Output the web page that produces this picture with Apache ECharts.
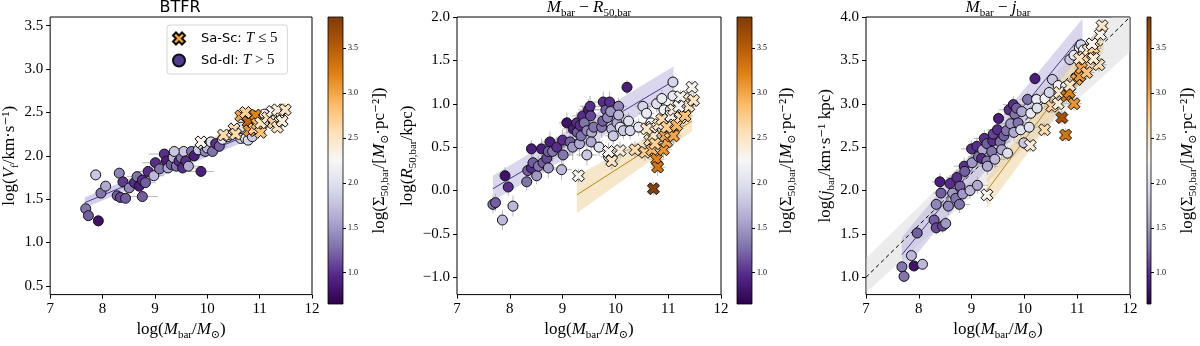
<!DOCTYPE html>
<html>
<head>
<meta charset="utf-8">
<script src="https://cdn.jsdelivr.net/npm/echarts@6.0.0/dist/echarts.min.js"></script>
<style>
  html, body { margin: 0; padding: 0; background: #fff; }
  #chart { width: 1200px; height: 346px; }
</style>
</head>
<body>
<div id="chart"></div>
<script>
// each point: [log Mbar, y, log Sigma50, xerr, yerr]
const btfrSd = [
  [7.68,1.39,1.3,0.05,0.04],[7.73,1.31,1.2,0.05,0.05],[7.92,1.25,0.8,0.05,0.07],[7.87,1.78,1.8,0.05,0.06],
  [7.97,1.57,1.3,0.05,0.04],[8.06,1.65,1.6,0.05,0.04],[8.32,1.80,1.4,0.05,0.03],[8.39,1.70,1.05,0.1,0.03],
  [8.28,1.54,1.2,0.05,0.03],[8.34,1.52,1.1,0.05,0.03],[8.44,1.51,1.2,0.05,0.03],[8.51,1.63,1.4,0.2,0.03],
  [8.61,1.69,1.0,0.2,0.03],[8.70,1.65,0.9,0.15,0.03],[8.66,1.76,1.3,0.2,0.03],[8.76,1.72,1.0,0.2,0.03],
  [8.82,1.69,1.2,0.2,0.03],[8.76,1.53,1.2,0.3,0.03],[8.87,1.82,1.0,0.2,0.03],[8.98,1.77,1.7,0.2,0.03],
  [9.01,1.92,1.0,0.25,0.03],[9.09,1.85,1.3,0.2,0.03],[9.18,2.02,1.0,0.3,0.03],[9.22,1.94,0.9,0.2,0.03],
  [9.25,1.86,1.6,0.2,0.03],[9.31,1.90,1.2,0.2,0.03],[9.35,1.98,1.7,0.2,0.03],[9.41,1.88,1.3,0.2,0.03],
  [9.46,1.94,1.0,0.2,0.03],[9.50,1.98,1.3,0.2,0.03],[9.55,2.05,1.8,0.15,0.03],[9.53,1.86,1.0,0.25,0.03],
  [9.59,1.94,1.0,0.2,0.03],[9.64,1.88,1.6,0.2,0.03],[9.37,2.05,1.8,0.2,0.03],[9.70,2.05,1.3,0.2,0.03],
  [9.75,2.00,0.9,0.2,0.03],[9.83,2.07,1.8,0.15,0.03],[9.88,1.82,0.9,0.25,0.03],[9.91,2.12,1.9,0.15,0.03],
  [9.96,2.05,1.4,0.15,0.03],[10.0,2.09,1.7,0.15,0.03],[10.07,2.16,2.0,0.15,0.03],[10.10,2.05,1.3,0.15,0.03],
  [10.16,2.14,1.0,0.15,0.03],[10.23,2.11,1.2,0.15,0.03],[10.29,2.19,2.1,0.15,0.03],[10.39,2.22,2.0,0.15,0.03],
  [10.45,2.24,2.2,0.15,0.03],[10.54,2.27,1.9,0.15,0.03],[10.64,2.20,1.9,0.15,0.03],[10.73,2.20,2.1,0.15,0.03],
  [10.78,2.18,1.9,0.15,0.03],[10.86,2.22,1.8,0.15,0.03],[10.89,2.46,1.9,0.15,0.03],[11.08,2.37,1.8,0.15,0.03],
  [11.09,2.48,2.2,0.15,0.03],[10.64,2.33,2.0,0.15,0.03]
];
const btfrSa = [
  [9.88,2.16,2.3,0.1,0.03],[10.31,2.24,2.6,0.1,0.03],[10.51,2.31,2.6,0.1,0.03],[10.54,2.25,2.6,0.1,0.03],
  [10.64,2.46,3.0,0.1,0.03],[10.73,2.50,2.7,0.1,0.03],[10.78,2.39,3.4,0.1,0.03],[10.80,2.29,3.1,0.1,0.03],
  [10.89,2.31,2.7,0.1,0.03],[10.92,2.47,3.2,0.1,0.03],[10.95,2.37,2.9,0.1,0.03],[11.02,2.27,2.8,0.1,0.03],
  [11.02,2.38,2.5,0.1,0.03],[11.15,2.44,2.5,0.1,0.03],[11.24,2.51,2.3,0.1,0.03],[11.26,2.38,2.7,0.1,0.03],
  [11.34,2.33,2.5,0.1,0.03],[11.39,2.46,2.4,0.1,0.03],[11.34,2.53,2.4,0.1,0.03],[11.49,2.53,2.5,0.1,0.03],
  [11.43,2.40,2.4,0.1,0.03]
];
const r50Sd = [
  [7.68,-0.16,1.3,0.05,0.1],[7.73,-0.14,1.2,0.05,0.1],[7.91,0.17,0.8,0.05,0.1],[7.97,0.04,1.0,0.05,0.1],
  [7.86,-0.34,1.7,0.05,0.12],[8.06,-0.18,1.7,0.05,0.12],[8.32,0.10,1.3,0.1,0.1],[8.34,0.23,1.2,0.1,0.1],
  [8.41,0.48,0.9,0.1,0.1],[8.41,0.26,1.0,0.1,0.1],[8.44,0.32,1.2,0.1,0.1],[8.51,0.17,1.5,0.1,0.1],
  [8.54,0.28,1.3,0.15,0.12],[8.60,0.48,0.9,0.15,0.12],[8.63,0.32,1.2,0.15,0.12],[8.70,0.37,1.1,0.15,0.12],
  [8.73,0.26,1.5,0.15,0.12],[8.76,0.56,0.9,0.15,0.12],[8.73,0.45,1.2,0.15,0.12],[8.81,0.45,1.3,0.15,0.12],
  [8.89,0.50,1.0,0.15,0.12],[9.0,0.58,1.0,0.2,0.12],[9.01,0.41,1.3,0.2,0.15],[8.98,0.24,1.7,0.2,0.12],
  [9.08,0.78,0.8,0.15,0.12],[9.14,0.56,1.2,0.2,0.15],[9.19,0.50,1.5,0.2,0.15],[9.20,0.71,0.9,0.2,0.12],
  [9.27,0.78,1.0,0.2,0.12],[9.28,0.67,1.2,0.2,0.15],[9.32,0.54,1.6,0.2,0.15],[9.33,0.75,1.0,0.2,0.12],
  [9.38,0.86,1.0,0.2,0.12],[9.41,0.78,1.3,0.2,0.12],[9.35,0.63,1.3,0.2,0.15],[9.46,0.69,1.4,0.2,0.12],
  [9.49,0.93,0.9,0.2,0.12],[9.52,0.97,1.0,0.2,0.12],[9.53,0.86,1.1,0.2,0.12],[9.55,0.67,1.6,0.2,0.12],
  [9.54,0.56,1.6,0.2,0.12],[9.59,0.73,1.3,0.2,0.12],[9.46,0.41,1.8,0.2,0.12],[9.69,0.50,2.0,0.15,0.1],
  [9.74,0.73,1.3,0.2,0.12],[9.77,1.02,1.0,0.2,0.12],[9.76,0.80,1.2,0.2,0.12],[9.82,0.93,1.2,0.2,0.12],
  [9.85,0.84,1.4,0.2,0.12],[9.89,1.02,1.0,0.2,0.12],[9.93,0.71,1.7,0.15,0.1],[9.96,0.63,1.8,0.15,0.1],
  [9.91,0.91,1.5,0.15,0.1],[10.03,0.78,1.6,0.15,0.1],[10.06,0.97,1.4,0.15,0.1],[10.06,0.87,1.7,0.15,0.1],
  [10.09,0.73,2.0,0.15,0.1],[10.15,0.69,1.8,0.15,0.1],[10.25,0.80,2.0,0.15,0.1],[10.22,1.19,0.9,0.1,0.08],
  [10.28,0.69,1.9,0.15,0.1],[10.44,0.73,2.1,0.15,0.1],[10.52,0.97,1.9,0.15,0.1],[10.59,0.89,2.1,0.15,0.1],
  [10.67,0.78,2.2,0.15,0.1],[10.78,1.00,2.0,0.15,0.1],[10.88,1.06,2.1,0.15,0.1],[10.92,0.93,2.2,0.15,0.1],
  [11.04,0.93,2.1,0.15,0.1],[11.09,1.25,1.9,0.1,0.08],[11.09,1.09,2.1,0.1,0.08],[9.87,0.39,2.0,0.15,0.1]
];
const r50Sa = [
  [9.30,0.17,2.3,0.1,0.08],[9.87,0.45,2.3,0.15,0.1],[9.93,0.34,2.5,0.15,0.1],[10.09,0.46,2.4,0.15,0.1],
  [10.37,0.47,2.6,0.15,0.1],[10.56,0.44,2.7,0.15,0.1],[10.69,0.47,2.9,0.15,0.1],[10.65,0.58,2.6,0.15,0.1],
  [10.72,0.63,2.5,0.15,0.1],[10.69,0.73,2.4,0.15,0.1],[10.59,0.71,2.5,0.15,0.1],[10.78,0.36,3.2,0.15,0.1],
  [10.80,0.27,3.3,0.15,0.1],[10.72,0.02,3.8,0.1,0.08],[10.91,0.47,3.1,0.15,0.1],[10.97,0.56,3.0,0.15,0.1],
  [10.94,0.63,3.0,0.15,0.1],[11.04,0.67,2.8,0.15,0.1],[11.10,0.63,3.0,0.15,0.1],[10.82,0.76,2.5,0.15,0.1],
  [10.88,0.82,2.6,0.15,0.1],[10.97,0.73,2.7,0.15,0.1],[11.05,0.86,2.3,0.15,0.1],[11.10,0.93,2.4,0.15,0.1],
  [11.16,0.75,2.9,0.15,0.1],[11.23,0.84,2.6,0.15,0.1],[11.32,0.86,2.8,0.15,0.1],[11.30,1.06,2.5,0.15,0.1],
  [11.39,0.97,2.5,0.15,0.1],[11.45,1.19,2.3,0.1,0.08],[11.48,1.04,2.5,0.1,0.08],[11.23,1.08,2.3,0.1,0.08],
  [11.20,0.97,2.2,0.1,0.08],[10.75,0.54,2.7,0.15,0.1]
];
const jSd = [
  [7.68,1.12,1.3,0.05,0.06],[7.72,1.01,1.3,0.05,0.06],[7.86,1.25,1.7,0.05,0.06],[7.91,1.13,0.8,0.05,0.06],
  [8.07,1.15,1.7,0.05,0.06],[7.97,1.51,1.2,0.05,0.06],[8.29,1.66,1.2,0.1,0.08],[8.33,1.57,1.1,0.1,0.08],
  [8.45,1.59,1.1,0.1,0.08],[8.51,1.62,1.5,0.1,0.08],[8.33,1.84,1.4,0.1,0.08],[8.40,2.10,0.9,0.15,0.1],
  [8.42,1.97,1.2,0.15,0.1],[8.56,1.82,1.4,0.15,0.1],[8.59,2.08,1.0,0.15,0.1],[8.64,1.97,1.5,0.2,0.1],
  [8.72,2.15,1.0,0.2,0.1],[8.70,1.91,1.3,0.2,0.1],[8.78,2.05,1.2,0.2,0.1],[8.77,1.84,1.3,0.2,0.1],
  [8.83,1.96,1.5,0.2,0.1],[8.86,2.28,1.0,0.2,0.1],[8.87,2.22,1.2,0.2,0.1],[8.97,2.00,1.7,0.2,0.1],
  [9.01,2.32,1.5,0.2,0.1],[9.11,2.06,1.6,0.2,0.1],[9.0,2.48,1.0,0.2,0.1],[9.10,2.51,1.0,0.2,0.1],
  [9.13,2.39,1.3,0.2,0.1],[9.21,2.47,1.6,0.2,0.1],[9.24,2.60,1.0,0.2,0.1],[9.29,2.54,1.2,0.2,0.1],
  [9.19,2.37,1.0,0.2,0.1],[9.29,2.34,1.3,0.2,0.1],[9.30,2.28,1.6,0.2,0.1],[9.38,2.45,1.3,0.2,0.1],
  [9.40,2.57,1.0,0.2,0.1],[9.41,2.65,1.1,0.2,0.1],[9.44,2.36,1.7,0.2,0.1],[9.49,2.70,1.0,0.2,0.1],
  [9.51,2.83,0.9,0.1,0.08],[9.54,2.56,1.3,0.2,0.1],[9.57,2.47,1.6,0.2,0.1],[9.61,2.63,1.2,0.2,0.1],
  [9.66,2.69,1.3,0.2,0.1],[9.68,2.43,2.0,0.15,0.08],[9.71,2.93,1.0,0.2,0.1],[9.74,2.77,1.5,0.2,0.1],
  [9.79,2.99,1.0,0.2,0.1],[9.80,2.67,1.6,0.2,0.1],[9.82,2.88,1.3,0.2,0.1],[9.85,2.95,1.2,0.2,0.1],
  [9.88,2.78,1.3,0.2,0.1],[9.95,2.91,1.6,0.15,0.08],[9.93,2.70,2.0,0.15,0.08],[9.99,2.55,1.8,0.15,0.08],
  [10.06,3.05,1.3,0.15,0.08],[10.09,2.73,2.0,0.15,0.08],[10.12,2.89,2.1,0.15,0.08],[10.23,3.05,2.1,0.15,0.08],
  [10.20,3.29,0.9,0.1,0.08],[10.24,2.95,2.0,0.15,0.08],[10.39,3.06,2.2,0.15,0.08],[10.47,3.13,1.9,0.15,0.08],
  [10.53,3.28,1.8,0.15,0.08],[10.64,3.21,2.2,0.15,0.08],[10.78,3.20,2.1,0.15,0.08],[10.86,3.51,1.8,0.15,0.08],
  [10.94,3.56,2.1,0.15,0.08],[11.04,3.65,2.1,0.15,0.08],[11.07,3.68,1.9,0.15,0.08],[11.12,3.62,2.2,0.15,0.08]
];
const jSa = [
  [9.29,1.95,2.3,0.1,0.08],[10.11,2.52,2.4,0.1,0.08],[10.38,2.70,2.6,0.1,0.08],[10.52,2.97,2.7,0.15,0.08],
  [10.71,2.84,3.6,0.1,0.08],[10.78,2.64,3.3,0.1,0.08],[10.66,3.13,2.5,0.15,0.08],[10.64,3.00,2.4,0.15,0.08],
  [10.80,3.09,3.3,0.15,0.08],[10.85,3.13,3.2,0.15,0.08],[10.94,3.00,3.1,0.15,0.08],[10.99,3.28,3.0,0.15,0.08],
  [11.05,3.32,3.1,0.15,0.08],[11.08,3.41,3.0,0.15,0.08],[11.18,3.36,2.8,0.15,0.08],[11.12,3.54,2.7,0.15,0.08],
  [11.04,3.52,2.5,0.15,0.08],[11.21,3.62,2.5,0.15,0.08],[11.31,3.64,2.7,0.15,0.08],[11.28,3.69,2.3,0.15,0.08],
  [11.41,3.45,2.6,0.15,0.08],[11.31,3.52,2.4,0.15,0.08],[11.44,3.80,2.3,0.1,0.08],[11.47,3.90,2.5,0.1,0.08],
  [10.86,3.21,2.5,0.15,0.08]
];

// fit lines [x, y] and bands [x, lo, hi]
const btfrFitSd = [[7.66, 1.46], [11.1, 2.32]];
const btfrBandSd = [[7.66, 1.40, 1.52], [11.1, 2.26, 2.38]];
const btfrFitSa = [[9.3, 1.93], [11.5, 2.58]];
const btfrBandSa = [[9.3, 1.88, 1.98], [11.5, 2.54, 2.62]];
const r50FitSd = [[7.68, 0.02], [11.07, 1.25]];
const r50BandSd = [[7.68, -0.12, 0.17], [11.1, 1.1, 1.43]];
const r50FitSa = [[9.27, -0.05], [11.45, 0.80]];
const r50BandSa = [[9.27, -0.26, 0.17], [11.45, 0.68, 0.90]];
const jOneToOne = [[7, 1.0], [12, 4.0]];
const jBandOne = [[7, 0.82, 1.22], [12, 3.6, 4.2]];
const jFitSd = [[7.68, 1.26], [11.02, 3.74]];
const jBandSd = [[7.68, 1.06, 1.46], [11.1, 3.58, 3.98]];
const jFitSa = [[9.29, 2.0], [11.46, 3.78]];
const jBandSa = [[9.29, 1.8, 2.15], [11.5, 3.6, 3.95]];

const xTicks = [7, 8, 9, 10, 11, 12];
const yTicksBTFR = [0.5, 1.0, 1.5, 2.0, 2.5, 3.0, 3.5];
const yTicksR50 = [-1.0, -0.5, 0.0, 0.5, 1.0, 1.5, 2.0];
const yTicksJ = [1.0, 1.5, 2.0, 2.5, 3.0, 3.5, 4.0];
const cbTicks = [1.0, 1.5, 2.0, 2.5, 3.0, 3.5];

const sigMin = 0.65, sigMax = 3.85;
const puor = ['#2d004b','#542788','#8073ac','#b2abd2','#d8daeb','#f7f7f7','#fee0b6','#fdb863','#e08214','#b35806','#7f3b08'];

const serif = "'Liberation Serif', 'DejaVu Serif', serif";
const sans = "'DejaVu Sans', sans-serif";
const xPath = 'path://M0,2.5 L2.5,0 L5,2.5 L7.5,0 L10,2.5 L7.5,5 L10,7.5 L7.5,10 L5,7.5 L2.5,10 L0,7.5 L2.5,5 Z';

const rich = {
  n: { fontFamily: serif, fontSize: 17, lineHeight: 22, color: '#000' },
  i: { fontFamily: serif, fontSize: 17, lineHeight: 22, fontStyle: 'italic', color: '#000' },
  s: { fontFamily: serif, fontSize: 11, lineHeight: 11, verticalAlign: 'bottom', color: '#000' }
};
const xName = '{n|log(}{i|M}{s|bar}{n|/}{i|M}{s|⊙}{n|)}';
const cbName = '{n|log(Σ}{s|50,bar}{n|/[}{i|M}{s|⊙}{n|·pc⁻²])}';

const panels = [
  { left: 48, cb: 328, yMin: 0.4, yMax: 3.6, yTicks: yTicksBTFR, sd: btfrSd, sa: btfrSa, yGap: 26, cbGap: 26,
    yName: '{n|log(}{i|V}{s|f}{n|/km·s⁻¹)}',
    lines: [[btfrFitSd, '#4b3a94', 'solid'], [btfrFitSa, '#c8860a', 'solid']],
    bands: [[btfrBandSd, '#b4aedb', 0.6], [btfrBandSa, '#ecc98a', 0.5]] },
  { left: 457, cb: 737, yMin: -1.2, yMax: 2.0, yTicks: yTicksR50, sd: r50Sd, sa: r50Sa, yGap: 36, cbGap: 24,
    yName: '{n|log(}{i|R}{s|50,bar}{n|/kpc)}',
    lines: [[r50FitSd, '#4b3a94', 'solid'], [r50FitSa, '#c8860a', 'solid']],
    bands: [[r50BandSd, '#b4aedb', 0.5], [r50BandSa, '#ecc98a', 0.45]] },
  { left: 866, cb: 1147, yMin: 0.8, yMax: 4.0, yTicks: yTicksJ, sd: jSd, sa: jSa, yGap: 25, cbGap: 26,
    yName: '{n|log(}{i|j}{s|bar}{n|/km·s⁻¹ kpc)}',
    lines: [[jOneToOne, '#000', [4, 3]], [jFitSd, '#4b3a94', 'solid'], [jFitSa, '#c8860a', 'solid']],
    bands: [[jBandOne, '#cfcfcf', 0.4], [jBandSd, '#b4aedb', 0.5], [jBandSa, '#ecc98a', 0.45]] }
];

function bandSeries(gi, band, color, opacity) {
  return {
    type: 'custom', xAxisIndex: gi, yAxisIndex: gi, silent: true, z: 1,
    data: [band[0]],
    renderItem: function (params, api) {
      const top = band.map(b => api.coord([b[0], b[2]]));
      const bot = band.slice().reverse().map(b => api.coord([b[0], b[1]]));
      const cs = params.coordSys;
      return {
        type: 'polygon', shape: { points: top.concat(bot) },
        style: { fill: color, opacity: opacity },
        clipPath: { type: 'rect', shape: { x: cs.x, y: cs.y, width: cs.width, height: cs.height } }
      };
    }
  };
}

function errSeries(gi, pts) {
  return {
    type: 'custom', xAxisIndex: gi, yAxisIndex: gi, silent: true, z: 3,
    data: pts,
    renderItem: function (params, api) {
      const x = api.value(0), y = api.value(1), xe = api.value(3), ye = api.value(4);
      const l = api.coord([x - xe, y]), r = api.coord([x + xe, y]);
      const b = api.coord([x, y - ye]), t = api.coord([x, y + ye]);
      const st = { stroke: '#9a9a9a', lineWidth: 1, opacity: 0.7 };
      return { type: 'group', children: [
        { type: 'line', shape: { x1: l[0], y1: l[1], x2: r[0], y2: r[1] }, style: st },
        { type: 'line', shape: { x1: b[0], y1: b[1], x2: t[0], y2: t[1] }, style: st }
      ] };
    }
  };
}

const fmt = v => v.toFixed(1).replace('-', '−');
const grid = [], xAxis = [], yAxis = [], series = [], scatterIdx = [];

panels.forEach(p => {
  const g = grid.length;
  grid.push({ left: p.left, top: 17, width: 264, height: 287, show: true,
    borderColor: '#000', borderWidth: 1, backgroundColor: 'transparent' });
  xAxis.push({ gridIndex: g, type: 'value', min: 7, max: 12,
    axisLine: { show: false, onZero: false }, splitLine: { show: false },
    axisTick: { inside: false, length: 4, lineStyle: { color: '#000' }, customValues: xTicks },
    axisLabel: { customValues: xTicks, fontFamily: serif, fontSize: 15, color: '#000', margin: 7 },
    name: xName, nameLocation: 'middle', nameGap: 21, nameTextStyle: { rich: rich } });
  yAxis.push({ gridIndex: g, type: 'value', min: p.yMin, max: p.yMax,
    axisLine: { show: false, onZero: false }, splitLine: { show: false },
    axisTick: { inside: false, length: 4, lineStyle: { color: '#000' }, customValues: p.yTicks },
    axisLabel: { customValues: p.yTicks, formatter: fmt, fontFamily: serif, fontSize: 15, color: '#000', margin: 7 },
    name: p.yName, nameLocation: 'middle', nameRotate: 90, nameGap: p.yGap, nameTextStyle: { rich: rich } });

  const c = grid.length;
  grid.push({ left: p.cb, top: 17, width: 15, height: 287, show: true, borderColor: '#000', borderWidth: 0.8,
    backgroundColor: new echarts.graphic.LinearGradient(0, 1, 0, 0,
      puor.map((col, i) => ({ offset: i / (puor.length - 1), color: col }))) });
  xAxis.push({ gridIndex: c, type: 'value', min: 0, max: 1, show: false });
  yAxis.push({ gridIndex: c, type: 'value', position: 'right', min: sigMin, max: sigMax,
    axisLine: { show: false, onZero: false }, splitLine: { show: false },
    axisTick: { inside: false, length: 3, lineStyle: { color: '#000' }, customValues: cbTicks },
    axisLabel: { customValues: cbTicks, formatter: fmt, fontFamily: serif, fontSize: 8, color: '#000', margin: 5 },
    name: cbName, nameLocation: 'middle', nameRotate: 90, nameGap: p.cbGap, nameTextStyle: { rich: rich } });

  p.bands.forEach(b => series.push(bandSeries(g, b[0], b[1], b[2])));
  p.lines.forEach(l => series.push({ type: 'line', xAxisIndex: g, yAxisIndex: g, data: l[0],
    showSymbol: false, silent: true, z: 2, lineStyle: { color: l[1], width: 1, type: l[2] } }));
  series.push(errSeries(g, p.sd.concat(p.sa)));
  scatterIdx.push(series.length);
  series.push({ type: 'scatter', name: 'Sd-dI', xAxisIndex: g, yAxisIndex: g, data: p.sd, z: 4,
    symbol: 'circle', symbolSize: 10,
    itemStyle: { color: '#4e3a8e', borderColor: '#111', borderWidth: 1, opacity: 1 } });
  scatterIdx.push(series.length);
  series.push({ type: 'scatter', name: 'Sa-Sc', xAxisIndex: g, yAxisIndex: g, data: p.sa, z: 5,
    symbol: xPath, symbolSize: 12,
    itemStyle: { color: '#f5a834', borderColor: '#111', borderWidth: 1, opacity: 1 } });
});

const chart = echarts.init(document.getElementById('chart'));
chart.setOption({
  animation: false,
  backgroundColor: '#fff',
  grid: grid, xAxis: xAxis, yAxis: yAxis, series: series,
  visualMap: { type: 'continuous', show: false, min: sigMin, max: sigMax, dimension: 2,
    seriesIndex: scatterIdx, inRange: { color: puor } },
  legend: {
    left: 167, top: 25, orient: 'vertical', selectedMode: false,
    data: [{ name: 'Sa-Sc', icon: xPath }, { name: 'Sd-dI', icon: 'circle' }],
    itemWidth: 34, itemHeight: 12, itemGap: 7, padding: [6, 10, 6, 5],
    backgroundColor: '#fff', borderColor: '#d6d6d6', borderWidth: 1, borderRadius: 3,
    formatter: n => n === 'Sa-Sc' ? '{s|Sa-Sc: }{i|T}{m| ≤ 5}' : '{s|Sd-dI: }{i|T}{m| > 5}',
    textStyle: { rich: {
      s: { fontFamily: sans, fontSize: 13, color: '#000' },
      i: { fontFamily: serif, fontStyle: 'italic', fontSize: 15, color: '#000' },
      m: { fontFamily: serif, fontSize: 15, color: '#000' } } }
  },
  graphic: [
    { type: 'text', x: 180, y: 0, style: { text: 'BTFR', font: '16px ' + sans, fill: '#000', align: 'center', verticalAlign: 'top' } },
    { type: 'text', x: 589, y: -3, style: { text: '{i|M}{s|bar}{n| − }{i|R}{s|50,bar}', rich: rich, align: 'center', verticalAlign: 'top' } },
    { type: 'text', x: 998, y: -3, style: { text: '{i|M}{s|bar}{n| − }{i|j}{s|bar}', rich: rich, align: 'center', verticalAlign: 'top' } }
  ]
});
</script>
</body>
</html>
